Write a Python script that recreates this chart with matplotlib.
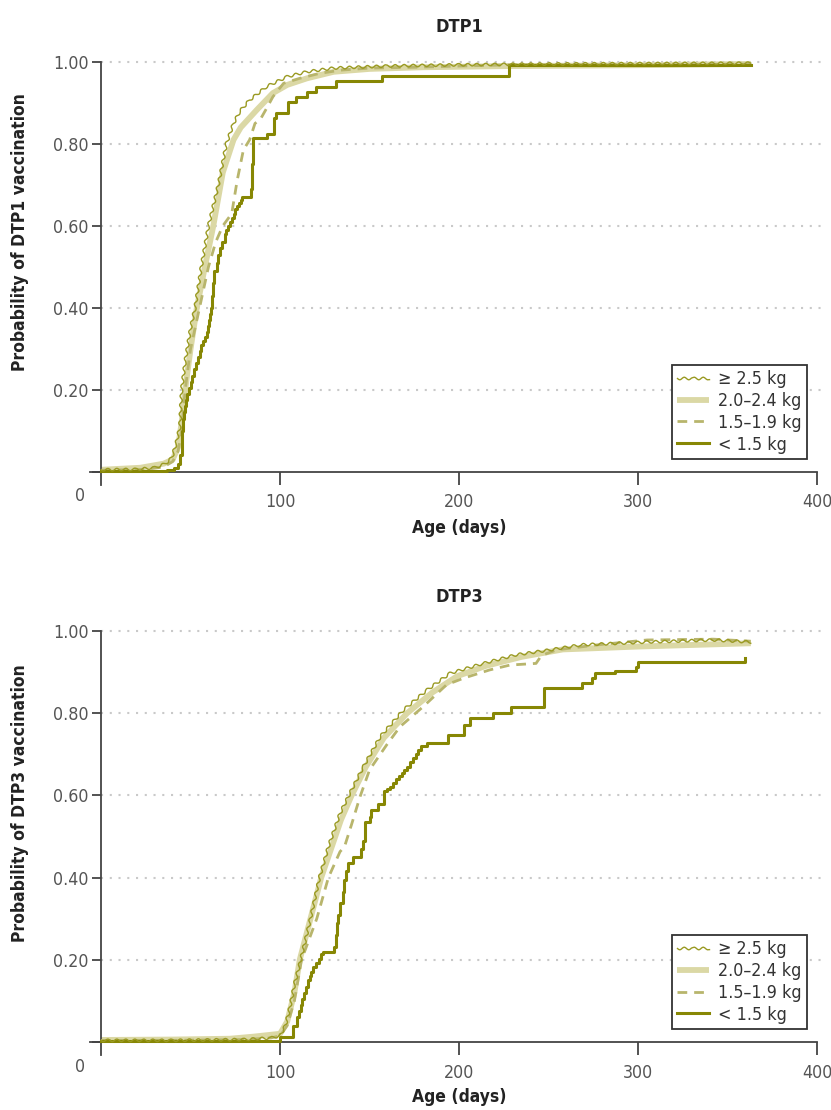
import matplotlib
matplotlib.use('Agg')
import matplotlib.pyplot as plt
from matplotlib import font_manager as fm

# pick a condensed/narrow sans family if one is installed
_cond = None
_stretch = 'normal'
for f in fm.fontManager.ttflist:
    nm = f.name
    if any(k in nm for k in ('Mono', 'Serif', 'CJK', 'Math')):
        continue
    if 'Narrow' in nm or 'Condensed' in nm:
        _cond, _stretch = nm, 'normal'
        break
    if f.stretch in ('condensed', 'semi-condensed', 'extra-condensed', 'ultra-condensed'):
        _cond, _stretch = nm, f.stretch
        break
if _cond is None:
    _cond = 'Roboto'
plt.rcParams['font.family'] = [_cond, 'DejaVu Sans']
plt.rcParams['font.stretch'] = _stretch

# ---------------- DATA ----------------
labels = ['\u2265 2.5 kg', '2.0\u20132.4 kg', '1.5\u20131.9 kg', '< 1.5 kg']

# DTP1
d1_ge25_days = [0, 20, 30, 36, 39.5, 42, 44, 45, 47, 50, 52.5, 56, 60, 65.5, 70, 74, 77.6, 83, 92.5, 104, 115, 130, 160, 200, 250, 300, 363]
d1_ge25_p = [0.005, 0.006, 0.01, 0.02, 0.034, 0.07, 0.11, 0.2, 0.27, 0.35, 0.4, 0.5, 0.6, 0.7, 0.8, 0.85, 0.88, 0.907, 0.94, 0.964, 0.976, 0.985, 0.99, 0.993, 0.995, 0.996, 0.997]

d1_2024_days = [0, 22, 35, 40, 43, 45, 47, 50, 53.5, 58, 62.7, 68, 74, 78, 87, 96, 104, 115, 130, 150, 180, 230, 300, 363]
d1_2024_p = [0.005, 0.01, 0.02, 0.03, 0.06, 0.12, 0.2, 0.3, 0.4, 0.5, 0.6, 0.73, 0.81, 0.84, 0.883, 0.924, 0.944, 0.96, 0.976, 0.983, 0.987, 0.99, 0.992, 0.995]

d1_1519_days = [0, 25, 35, 40, 43, 45, 47, 50, 55, 60, 64, 68, 73, 76, 79.5, 83, 86, 89, 92.5, 96, 102, 111, 122, 134, 150, 175, 200, 230, 270, 320, 363]
d1_1519_p = [0.004, 0.006, 0.012, 0.025, 0.05, 0.1, 0.2, 0.3, 0.4, 0.5, 0.56, 0.6, 0.63, 0.71, 0.785, 0.81, 0.85, 0.86, 0.887, 0.915, 0.948, 0.96, 0.972, 0.98, 0.985, 0.987, 0.99, 0.993, 0.993, 0.993, 0.995]

d1_lt15_days = [0, 37, 41, 43, 44, 45, 45.5, 46, 46.5, 47, 47.5, 48, 49, 50, 51, 52, 53, 54, 55, 56, 57, 58, 59, 60, 60.5, 61, 61.5, 62, 62.5, 63, 64.5, 65.5, 66.5, 67.5, 69, 70, 71, 72, 73, 74, 75, 76, 77, 78, 79, 84, 84.5, 85, 92.5, 96.4, 98, 104.5, 109, 115, 120, 131, 157, 228, 363]
d1_lt15_p = [0.003, 0.005, 0.01, 0.02, 0.04, 0.10, 0.115, 0.13, 0.145, 0.16, 0.175, 0.19, 0.205, 0.22, 0.235, 0.25, 0.265, 0.28, 0.295, 0.31, 0.32, 0.33, 0.34, 0.355, 0.37, 0.385, 0.40, 0.43, 0.46, 0.49, 0.51, 0.53, 0.545, 0.56, 0.58, 0.59, 0.60, 0.61, 0.62, 0.63, 0.64, 0.648, 0.655, 0.663, 0.67, 0.69, 0.75, 0.815, 0.825, 0.863, 0.875, 0.903, 0.915, 0.927, 0.939, 0.954, 0.965, 0.993, 0.993]

# DTP3
d3_ge25_days = [0, 40, 80, 95, 100, 103, 105.6, 108, 111, 114, 117, 122, 127, 133.5, 139, 146.6, 156, 169, 182, 195, 213.6, 232, 251, 268, 305, 342, 363]
d3_ge25_p = [0.004, 0.004, 0.006, 0.01, 0.015, 0.04, 0.086, 0.14, 0.19, 0.245, 0.30, 0.40, 0.475, 0.556, 0.605, 0.67, 0.743, 0.808, 0.856, 0.897, 0.921, 0.942, 0.954, 0.966, 0.973, 0.978, 0.973]

d3_2024_days = [0, 40, 72, 85, 100, 104, 108, 111, 117, 123, 128.5, 134, 140, 148, 158, 171, 185, 199, 215, 235, 258, 300, 363]
d3_2024_p = [0.005, 0.006, 0.008, 0.013, 0.02, 0.05, 0.12, 0.2, 0.3, 0.4, 0.47, 0.54, 0.6, 0.67, 0.74, 0.80, 0.85, 0.89, 0.915, 0.937, 0.955, 0.962, 0.97]

d3_1519_days = [0, 40, 80, 95, 100, 104, 108, 112, 120.5, 127, 133.5, 136, 140, 144.7, 150, 159.6, 167, 180, 193, 202.5, 217, 228.5, 243, 246, 254.5, 277, 305, 342, 363]
d3_1519_p = [0.004, 0.004, 0.006, 0.01, 0.015, 0.04, 0.1, 0.2, 0.3, 0.4, 0.463, 0.475, 0.53, 0.597, 0.662, 0.723, 0.767, 0.816, 0.869, 0.885, 0.905, 0.917, 0.921, 0.94, 0.954, 0.966, 0.978, 0.98, 0.975]

d3_lt15_days = [0, 100, 107, 109.5, 110.5, 111.5, 112.5, 113.5, 114.5, 115.5, 116.5, 117.5, 118.6, 120, 121.5, 123, 124, 130, 131, 131.7, 132.5, 133.5, 135, 136, 137, 138, 141, 145, 146.6, 147.5, 150, 151, 154.5, 158, 160, 161.5, 163, 165, 166.5, 168, 169.5, 171, 172.5, 174.5, 176, 177, 179, 182, 194, 202.5, 206, 219, 229, 247.5, 268.5, 274, 276, 287, 299, 300, 360]
d3_lt15_p = [0.003, 0.012, 0.04, 0.06, 0.075, 0.09, 0.105, 0.12, 0.135, 0.15, 0.16, 0.17, 0.183, 0.193, 0.203, 0.213, 0.22, 0.232, 0.26, 0.29, 0.31, 0.338, 0.365, 0.394, 0.415, 0.435, 0.45, 0.47, 0.49, 0.536, 0.548, 0.565, 0.58, 0.61, 0.615, 0.62, 0.63, 0.64, 0.647, 0.655, 0.662, 0.67, 0.68, 0.69, 0.70, 0.71, 0.72, 0.727, 0.747, 0.77, 0.788, 0.80, 0.814, 0.86, 0.874, 0.885, 0.897, 0.903, 0.913, 0.924, 0.935]

x_ticks = [100, 200, 300, 400]
y_ticks = [0, 0.2, 0.4, 0.6, 0.8, 1.0]
y_ticklabels = ['', '0.20', '0.40', '0.60', '0.80', '1.00']

# ---------------- STYLE ----------------
C_DARK = '#878704'
C_WAVY = '#9a9a22'
C_THICK = '#dbd8a5'
C_DASH = '#b8b56c'
C_AX = '#444444'
C_TXT = '#555555'
FS_TICK = 12.8

fig = plt.figure(figsize=(8.31, 11.10), dpi=100)
ax1 = fig.add_axes([0.1087, 0.5631, 0.8745, 0.3848])
ax2 = fig.add_axes([0.1087, 0.0494, 0.8745, 0.3859])


def panel(ax, series, title, ylabel, title_y, xlabel_y, ylabel_y):
    (gd, gp), (td, tp), (sd, sp), (ld, lp) = series
    ax.set_xlim(-6, 400)
    ax.set_ylim(-0.032, 1.01)
    for s in ['top', 'right']:
        ax.spines[s].set_visible(False)
    ax.spines['left'].set_position(('data', 0))
    ax.spines['bottom'].set_position(('data', 0))
    ax.spines['left'].set_bounds(-0.032, 1.0)
    ax.spines['bottom'].set_bounds(-6, 400)
    for s in ['left', 'bottom']:
        ax.spines[s].set_color(C_AX)
        ax.spines[s].set_linewidth(1.3)
    ax.set_xticks(x_ticks)
    ax.set_xticklabels([str(v) for v in x_ticks])
    ax.set_yticks(y_ticks)
    ax.set_yticklabels(y_ticklabels)
    ax.tick_params(axis='x', direction='out', length=9.5, width=1.3, color=C_AX,
                   labelsize=FS_TICK, labelcolor=C_TXT, pad=6)
    ax.tick_params(axis='y', direction='out', length=6.5, width=1.3, color=C_AX,
                   labelsize=FS_TICK, labelcolor=C_TXT, pad=2.5)
    ax.hlines(y_ticks[1:], 0, 402, colors='#c9c9c9', linewidth=1.5,
              linestyles=(0, (1, 3.2)), clip_on=False, zorder=0)
    ax.text(-11.7, -0.06, '0', ha='center', va='center', fontsize=FS_TICK, color=C_TXT)

    l_thick, = ax.plot(td, tp, color=C_THICK, lw=4.2, solid_capstyle='butt', zorder=2)
    l_dash, = ax.plot(sd, sp, color=C_DASH, lw=2.0, dashes=(3.5, 2.5), zorder=3)
    l_dark, = ax.plot(ld, lp, color=C_DARK, lw=2.2, drawstyle='steps-post', zorder=4)
    l_wavy, = ax.plot(gd, gp, color=C_WAVY, lw=1.0, zorder=5)
    l_wavy.set_sketch_params(scale=1.3, length=9, randomness=1)

    leg = ax.legend([l_wavy, l_thick, l_dash, l_dark], labels, loc='lower right',
                    bbox_to_anchor=(0.986, 0.061), borderaxespad=0, fontsize=12.8,
                    frameon=True, fancybox=False, framealpha=1, edgecolor='#333333',
                    handlelength=1.8, handletextpad=0.5, labelspacing=0.22,
                    borderpad=0.3)
    leg.get_frame().set_linewidth(1.3)
    for t in leg.get_texts():
        t.set_color('#333333')

    fig.text(459 / 831, 1 - title_y / 1110, title, ha='center', va='center',
             fontsize=13, fontweight='bold', color='#222222')
    fig.text(459 / 831, 1 - xlabel_y / 1110, 'Age (days)', ha='center', va='center',
             fontsize=12.5, fontweight='bold', color='#222222')
    fig.text(20 / 831, 1 - ylabel_y / 1110, ylabel, ha='center', va='center',
             rotation=90, fontsize=12.5, fontweight='bold', color='#222222')


panel(ax1, [(d1_ge25_days, d1_ge25_p), (d1_2024_days, d1_2024_p),
            (d1_1519_days, d1_1519_p), (d1_lt15_days, d1_lt15_p)],
      'DTP1', 'Probability of DTP1 vaccination', 27, 528, 232)
panel(ax2, [(d3_ge25_days, d3_ge25_p), (d3_2024_days, d3_2024_p),
            (d3_1519_days, d3_1519_p), (d3_lt15_days, d3_lt15_p)],
      'DTP3', 'Probability of DTP3 vaccination', 597, 1097, 803)

fig.savefig('out.png', dpi=100)
